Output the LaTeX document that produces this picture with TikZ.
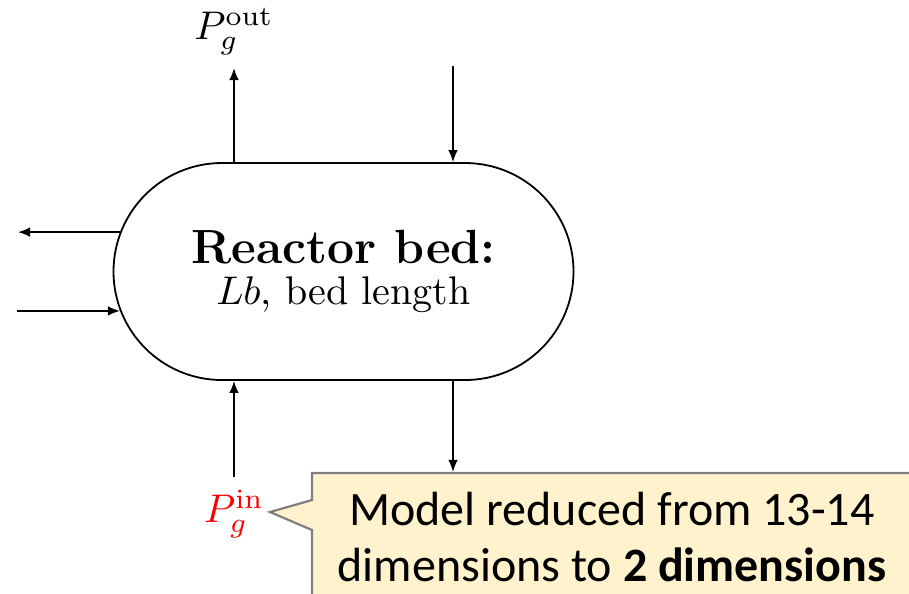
\documentclass[tikz,border=0pt]{standalone}
\usepackage{fontspec}
\newfontfamily\notefont{Carlito}
\usepackage{xcolor}
\definecolor{notefill}{HTML}{FFF2CC}
\definecolor{noteline}{HTML}{7F7F7F}
\usepackage{tikz}
\usetikzlibrary{arrows.meta,positioning,calc,shapes.misc,shapes.callouts}
\tikzset{
  >={Latex[length=3pt,width=2.4pt]},
  bed/.style={rounded rectangle,draw,line width=0.45pt,fill=white,align=center,
              inner sep=0pt,minimum width=115pt,minimum height=54.25pt},
  flow/.style={->,line width=0.4pt},
  sym/.style={inner sep=3pt},
  note/.style={rectangle callout,draw=noteline,line width=0.55pt,fill=notefill,
               align=center,inner sep=0pt,minimum width=150pt,minimum height=31.75pt,
               font=\notefont\fontsize{12pt}{14pt}\selectfont,callout pointer width=7.5pt},
}
\begin{document}
\begin{tikzpicture}[x=0.25pt,y=-0.25pt]
  \useasboundingbox (0,0) rectangle (909,593);

  \node[bed] (bed) at (343.5,271.5) {{\large\bfseries Reactor bed:}\\[-1.75pt]$Lb$, bed length};

  % free ends
  \coordinate (outtop) at (234,68);
  \coordinate (intop) at (453,66);
  \coordinate (westout) at (18,0);
  \coordinate (westin) at (17,0);
  \coordinate (tip) at (270,512);

  \node[sym,anchor=south] (pgout) at (outtop) {$P_g^{\mathrm{out}}$};
  \node[sym,anchor=north,text=red] (pgin) at (234,477) {$P_g^{\mathrm{in}}$};

  \node[note,callout absolute pointer={(tip)}] (note) at (612,536.5)
    {Model reduced from 13-14\\dimensions to \textbf{2 dimensions}};

  \draw[flow] (bed.north -| pgout) -- (pgout.south);
  \draw[flow] (intop) -- (bed.north -| intop);
  \draw[flow] (bed.170) -- (bed.170 -| westout);
  \draw[flow] (bed.190 -| westin) -- (bed.190);
  \draw[flow] (pgin.north) -- (bed.south -| pgin);
  \draw[flow] (bed.south -| intop) -- (note.north -| intop);
\end{tikzpicture}
\end{document}
